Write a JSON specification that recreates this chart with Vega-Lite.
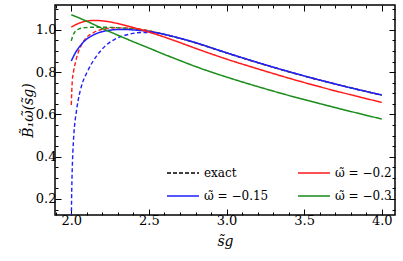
{
  "$schema": "https://vega.github.io/schema/vega-lite/v6.json",
  "width": 340,
  "height": 210,
  "autosize": {"type": "none"},
  "padding": {"left": 55, "top": 5, "right": 8, "bottom": 46},
  "background": "white",
  "config": {
    "view": {"stroke": "black", "strokeWidth": 1.5},
    "font": "DejaVu Serif",
    "axis": {"labelFont": "DejaVu Serif", "titleFont": "DejaVu Serif", "labelColor": "black", "titleColor": "black", "tickColor": "black", "grid": false, "domain": false},
    "legend": {"labelFont": "DejaVu Serif"}
  },
  "data": {"values": [
    {"s": 2.0, "B": 0.853, "w": "-0.15", "kind": "approx", "label": "ω̃ = −0.15"},
    {"s": 2.025, "B": 0.89, "w": "-0.15", "kind": "approx", "label": "ω̃ = −0.15"},
    {"s": 2.05, "B": 0.918, "w": "-0.15", "kind": "approx", "label": "ω̃ = −0.15"},
    {"s": 2.075, "B": 0.94, "w": "-0.15", "kind": "approx", "label": "ω̃ = −0.15"},
    {"s": 2.1, "B": 0.957, "w": "-0.15", "kind": "approx", "label": "ω̃ = −0.15"},
    {"s": 2.15, "B": 0.979, "w": "-0.15", "kind": "approx", "label": "ω̃ = −0.15"},
    {"s": 2.2, "B": 0.992, "w": "-0.15", "kind": "approx", "label": "ω̃ = −0.15"},
    {"s": 2.25, "B": 0.999, "w": "-0.15", "kind": "approx", "label": "ω̃ = −0.15"},
    {"s": 2.3, "B": 1.002, "w": "-0.15", "kind": "approx", "label": "ω̃ = −0.15"},
    {"s": 2.35, "B": 1.002, "w": "-0.15", "kind": "approx", "label": "ω̃ = −0.15"},
    {"s": 2.4, "B": 1.0, "w": "-0.15", "kind": "approx", "label": "ω̃ = −0.15"},
    {"s": 2.5, "B": 0.993, "w": "-0.15", "kind": "approx", "label": "ω̃ = −0.15"},
    {"s": 2.6, "B": 0.979, "w": "-0.15", "kind": "approx", "label": "ω̃ = −0.15"},
    {"s": 2.7, "B": 0.961, "w": "-0.15", "kind": "approx", "label": "ω̃ = −0.15"},
    {"s": 2.8, "B": 0.94, "w": "-0.15", "kind": "approx", "label": "ω̃ = −0.15"},
    {"s": 2.9, "B": 0.916, "w": "-0.15", "kind": "approx", "label": "ω̃ = −0.15"},
    {"s": 3.0, "B": 0.892, "w": "-0.15", "kind": "approx", "label": "ω̃ = −0.15"},
    {"s": 3.2, "B": 0.846, "w": "-0.15", "kind": "approx", "label": "ω̃ = −0.15"},
    {"s": 3.4, "B": 0.803, "w": "-0.15", "kind": "approx", "label": "ω̃ = −0.15"},
    {"s": 3.6, "B": 0.763, "w": "-0.15", "kind": "approx", "label": "ω̃ = −0.15"},
    {"s": 3.8, "B": 0.726, "w": "-0.15", "kind": "approx", "label": "ω̃ = −0.15"},
    {"s": 4.0, "B": 0.692, "w": "-0.15", "kind": "approx", "label": "ω̃ = −0.15"},

    {"s": 2.0, "B": 1.013, "w": "-0.2", "kind": "approx", "label": "ω̃ = −0.2"},
    {"s": 2.05, "B": 1.032, "w": "-0.2", "kind": "approx", "label": "ω̃ = −0.2"},
    {"s": 2.1, "B": 1.042, "w": "-0.2", "kind": "approx", "label": "ω̃ = −0.2"},
    {"s": 2.15, "B": 1.045, "w": "-0.2", "kind": "approx", "label": "ω̃ = −0.2"},
    {"s": 2.2, "B": 1.043, "w": "-0.2", "kind": "approx", "label": "ω̃ = −0.2"},
    {"s": 2.25, "B": 1.038, "w": "-0.2", "kind": "approx", "label": "ω̃ = −0.2"},
    {"s": 2.3, "B": 1.03, "w": "-0.2", "kind": "approx", "label": "ω̃ = −0.2"},
    {"s": 2.35, "B": 1.021, "w": "-0.2", "kind": "approx", "label": "ω̃ = −0.2"},
    {"s": 2.4, "B": 1.011, "w": "-0.2", "kind": "approx", "label": "ω̃ = −0.2"},
    {"s": 2.5, "B": 0.99, "w": "-0.2", "kind": "approx", "label": "ω̃ = −0.2"},
    {"s": 2.6, "B": 0.966, "w": "-0.2", "kind": "approx", "label": "ω̃ = −0.2"},
    {"s": 2.7, "B": 0.94, "w": "-0.2", "kind": "approx", "label": "ω̃ = −0.2"},
    {"s": 2.8, "B": 0.913, "w": "-0.2", "kind": "approx", "label": "ω̃ = −0.2"},
    {"s": 2.9, "B": 0.887, "w": "-0.2", "kind": "approx", "label": "ω̃ = −0.2"},
    {"s": 3.0, "B": 0.862, "w": "-0.2", "kind": "approx", "label": "ω̃ = −0.2"},
    {"s": 3.2, "B": 0.816, "w": "-0.2", "kind": "approx", "label": "ω̃ = −0.2"},
    {"s": 3.4, "B": 0.772, "w": "-0.2", "kind": "approx", "label": "ω̃ = −0.2"},
    {"s": 3.6, "B": 0.731, "w": "-0.2", "kind": "approx", "label": "ω̃ = −0.2"},
    {"s": 3.8, "B": 0.693, "w": "-0.2", "kind": "approx", "label": "ω̃ = −0.2"},
    {"s": 4.0, "B": 0.657, "w": "-0.2", "kind": "approx", "label": "ω̃ = −0.2"},

    {"s": 2.0, "B": 1.072, "w": "-0.3", "kind": "approx", "label": "ω̃ = −0.3"},
    {"s": 2.1, "B": 1.041, "w": "-0.3", "kind": "approx", "label": "ω̃ = −0.3"},
    {"s": 2.2, "B": 1.007, "w": "-0.3", "kind": "approx", "label": "ω̃ = −0.3"},
    {"s": 2.3, "B": 0.975, "w": "-0.3", "kind": "approx", "label": "ω̃ = −0.3"},
    {"s": 2.4, "B": 0.944, "w": "-0.3", "kind": "approx", "label": "ω̃ = −0.3"},
    {"s": 2.5, "B": 0.914, "w": "-0.3", "kind": "approx", "label": "ω̃ = −0.3"},
    {"s": 2.6, "B": 0.884, "w": "-0.3", "kind": "approx", "label": "ω̃ = −0.3"},
    {"s": 2.7, "B": 0.855, "w": "-0.3", "kind": "approx", "label": "ω̃ = −0.3"},
    {"s": 2.8, "B": 0.827, "w": "-0.3", "kind": "approx", "label": "ω̃ = −0.3"},
    {"s": 2.9, "B": 0.801, "w": "-0.3", "kind": "approx", "label": "ω̃ = −0.3"},
    {"s": 3.0, "B": 0.777, "w": "-0.3", "kind": "approx", "label": "ω̃ = −0.3"},
    {"s": 3.2, "B": 0.732, "w": "-0.3", "kind": "approx", "label": "ω̃ = −0.3"},
    {"s": 3.4, "B": 0.69, "w": "-0.3", "kind": "approx", "label": "ω̃ = −0.3"},
    {"s": 3.6, "B": 0.651, "w": "-0.3", "kind": "approx", "label": "ω̃ = −0.3"},
    {"s": 3.8, "B": 0.614, "w": "-0.3", "kind": "approx", "label": "ω̃ = −0.3"},
    {"s": 4.0, "B": 0.578, "w": "-0.3", "kind": "approx", "label": "ω̃ = −0.3"},

    {"s": 2.0, "B": 0.08, "w": "-0.15", "kind": "exact", "label": "exact"},
    {"s": 2.001, "B": 0.15, "w": "-0.15", "kind": "exact", "label": "exact"},
    {"s": 2.003, "B": 0.25, "w": "-0.15", "kind": "exact", "label": "exact"},
    {"s": 2.006, "B": 0.34, "w": "-0.15", "kind": "exact", "label": "exact"},
    {"s": 2.01, "B": 0.42, "w": "-0.15", "kind": "exact", "label": "exact"},
    {"s": 2.015, "B": 0.49, "w": "-0.15", "kind": "exact", "label": "exact"},
    {"s": 2.02, "B": 0.54, "w": "-0.15", "kind": "exact", "label": "exact"},
    {"s": 2.03, "B": 0.6, "w": "-0.15", "kind": "exact", "label": "exact"},
    {"s": 2.045, "B": 0.67, "w": "-0.15", "kind": "exact", "label": "exact"},
    {"s": 2.07, "B": 0.745, "w": "-0.15", "kind": "exact", "label": "exact"},
    {"s": 2.1, "B": 0.797, "w": "-0.15", "kind": "exact", "label": "exact"},
    {"s": 2.13, "B": 0.84, "w": "-0.15", "kind": "exact", "label": "exact"},
    {"s": 2.16, "B": 0.874, "w": "-0.15", "kind": "exact", "label": "exact"},
    {"s": 2.22, "B": 0.925, "w": "-0.15", "kind": "exact", "label": "exact"},
    {"s": 2.285, "B": 0.958, "w": "-0.15", "kind": "exact", "label": "exact"},
    {"s": 2.37, "B": 0.979, "w": "-0.15", "kind": "exact", "label": "exact"},
    {"s": 2.45, "B": 0.988, "w": "-0.15", "kind": "exact", "label": "exact"},
    {"s": 2.55, "B": 0.986, "w": "-0.15", "kind": "exact", "label": "exact"},
    {"s": 2.6, "B": 0.978, "w": "-0.15", "kind": "exact", "label": "exact"},
    {"s": 2.7, "B": 0.96, "w": "-0.15", "kind": "exact", "label": "exact"},
    {"s": 2.8, "B": 0.939, "w": "-0.15", "kind": "exact", "label": "exact"},
    {"s": 3.0, "B": 0.891, "w": "-0.15", "kind": "exact", "label": "exact"},
    {"s": 3.4, "B": 0.802, "w": "-0.15", "kind": "exact", "label": "exact"},
    {"s": 4.0, "B": 0.691, "w": "-0.15", "kind": "exact", "label": "exact"},

    {"s": 2.0, "B": 0.645, "w": "-0.2", "kind": "exact", "label": "exact"},
    {"s": 2.006, "B": 0.755, "w": "-0.2", "kind": "exact", "label": "exact"},
    {"s": 2.015, "B": 0.805, "w": "-0.2", "kind": "exact", "label": "exact"},
    {"s": 2.028, "B": 0.85, "w": "-0.2", "kind": "exact", "label": "exact"},
    {"s": 2.045, "B": 0.895, "w": "-0.2", "kind": "exact", "label": "exact"},
    {"s": 2.06, "B": 0.921, "w": "-0.2", "kind": "exact", "label": "exact"},
    {"s": 2.09, "B": 0.958, "w": "-0.2", "kind": "exact", "label": "exact"},
    {"s": 2.135, "B": 0.984, "w": "-0.2", "kind": "exact", "label": "exact"},
    {"s": 2.2, "B": 1.003, "w": "-0.2", "kind": "exact", "label": "exact"},
    {"s": 2.28, "B": 1.01, "w": "-0.2", "kind": "exact", "label": "exact"},
    {"s": 2.38, "B": 1.009, "w": "-0.2", "kind": "exact", "label": "exact"},
    {"s": 2.45, "B": 1.003, "w": "-0.2", "kind": "exact", "label": "exact"},
    {"s": 2.5, "B": 0.996, "w": "-0.2", "kind": "exact", "label": "exact"},
    {"s": 2.6, "B": 0.979, "w": "-0.2", "kind": "exact", "label": "exact"},
    {"s": 2.7, "B": 0.96, "w": "-0.2", "kind": "exact", "label": "exact"},
    {"s": 2.8, "B": 0.939, "w": "-0.2", "kind": "exact", "label": "exact"},
    {"s": 3.0, "B": 0.891, "w": "-0.2", "kind": "exact", "label": "exact"},
    {"s": 3.4, "B": 0.802, "w": "-0.2", "kind": "exact", "label": "exact"},
    {"s": 4.0, "B": 0.691, "w": "-0.2", "kind": "exact", "label": "exact"},

    {"s": 2.0, "B": 0.948, "w": "-0.3", "kind": "exact", "label": "exact"},
    {"s": 2.008, "B": 0.968, "w": "-0.3", "kind": "exact", "label": "exact"},
    {"s": 2.017, "B": 0.984, "w": "-0.3", "kind": "exact", "label": "exact"},
    {"s": 2.03, "B": 0.996, "w": "-0.3", "kind": "exact", "label": "exact"},
    {"s": 2.05, "B": 1.005, "w": "-0.3", "kind": "exact", "label": "exact"},
    {"s": 2.09, "B": 1.011, "w": "-0.3", "kind": "exact", "label": "exact"},
    {"s": 2.16, "B": 1.013, "w": "-0.3", "kind": "exact", "label": "exact"},
    {"s": 2.25, "B": 1.012, "w": "-0.3", "kind": "exact", "label": "exact"},
    {"s": 2.35, "B": 1.008, "w": "-0.3", "kind": "exact", "label": "exact"},
    {"s": 2.45, "B": 1.0, "w": "-0.3", "kind": "exact", "label": "exact"},
    {"s": 2.5, "B": 0.995, "w": "-0.3", "kind": "exact", "label": "exact"},
    {"s": 2.6, "B": 0.979, "w": "-0.3", "kind": "exact", "label": "exact"},
    {"s": 2.7, "B": 0.96, "w": "-0.3", "kind": "exact", "label": "exact"},
    {"s": 2.8, "B": 0.939, "w": "-0.3", "kind": "exact", "label": "exact"},
    {"s": 3.0, "B": 0.891, "w": "-0.3", "kind": "exact", "label": "exact"},
    {"s": 3.4, "B": 0.802, "w": "-0.3", "kind": "exact", "label": "exact"},
    {"s": 4.0, "B": 0.691, "w": "-0.3", "kind": "exact", "label": "exact"}
  ]},
  "layer": [
    {
      "transform": [{"filter": "datum.kind === 'exact'"}],
      "mark": {"type": "line", "clip": true, "strokeWidth": 1.4, "strokeDash": [4, 2.5], "interpolate": "monotone"},
      "encoding": {
        "x": {"field": "s", "type": "quantitative", "scale": {"domain": [1.895, 4.085], "nice": false, "zero": false},
          "axis": {"orient": "bottom", "values": [1.9, 2, 2.1, 2.2, 2.3, 2.4, 2.5, 2.6, 2.7, 2.8, 2.9, 3, 3.1, 3.2, 3.3, 3.4, 3.5, 3.6, 3.7, 3.8, 3.9, 4],
            "tickSize": {"condition": {"test": "abs(datum.value*2 - round(datum.value*2)) < 0.001", "value": -6}, "value": -3},
            "tickWidth": 1,
            "labelExpr": "abs(datum.value*2 - round(datum.value*2)) < 0.001 ? format(datum.value, '.1f') : ''",
            "labelFontSize": 13, "labelPadding": 5, "labelOverlap": false, "labelFlush": false,
            "title": "s̃g", "titleFontSize": 14, "titleFontStyle": "italic", "titleFontWeight": "normal", "titlePadding": 4}},
        "y": {"field": "B", "type": "quantitative", "scale": {"domain": [0.124, 1.118], "nice": false, "zero": false},
          "axis": {"orient": "left", "values": [0.15, 0.2, 0.25, 0.3, 0.35, 0.4, 0.45, 0.5, 0.55, 0.6, 0.65, 0.7, 0.75, 0.8, 0.85, 0.9, 0.95, 1, 1.05, 1.1],
            "tickSize": {"condition": {"test": "abs(datum.value*5 - round(datum.value*5)) < 0.001", "value": -6}, "value": -3},
            "tickWidth": 1,
            "labelExpr": "abs(datum.value*5 - round(datum.value*5)) < 0.001 ? format(datum.value, '.1f') : ''",
            "labelFontSize": 13, "labelPadding": 5, "labelOverlap": false, "labelFlush": false,
            "title": "B̃₁ω̃(s̃g)", "titleFontSize": 14, "titleFontStyle": "italic", "titleFontWeight": "normal", "titlePadding": 0}},
        "color": {"field": "w", "type": "nominal", "scale": {"domain": ["-0.15", "-0.2", "-0.3"], "range": ["#1f1fff", "#ff1a1a", "#1a8c1a"]}, "legend": null},
        "detail": {"field": "w"}
      }
    },
    {
      "transform": [{"filter": "datum.kind === 'approx'"}],
      "mark": {"type": "line", "clip": true, "strokeWidth": 1.5, "interpolate": "monotone"},
      "encoding": {
        "x": {"field": "s", "type": "quantitative",
          "axis": {"orient": "top", "values": [1.9, 2, 2.1, 2.2, 2.3, 2.4, 2.5, 2.6, 2.7, 2.8, 2.9, 3, 3.1, 3.2, 3.3, 3.4, 3.5, 3.6, 3.7, 3.8, 3.9, 4],
            "tickSize": {"condition": {"test": "abs(datum.value*2 - round(datum.value*2)) < 0.001", "value": -6}, "value": -3},
            "tickWidth": 1, "labels": false, "title": null}},
        "y": {"field": "B", "type": "quantitative",
          "axis": {"orient": "right", "values": [0.15, 0.2, 0.25, 0.3, 0.35, 0.4, 0.45, 0.5, 0.55, 0.6, 0.65, 0.7, 0.75, 0.8, 0.85, 0.9, 0.95, 1, 1.05, 1.1],
            "tickSize": {"condition": {"test": "abs(datum.value*5 - round(datum.value*5)) < 0.001", "value": -6}, "value": -3},
            "tickWidth": 1, "labels": false, "title": null}},
        "color": {"field": "label", "type": "nominal",
          "scale": {"domain": ["exact", "ω̃ = −0.15", "ω̃ = −0.2", "ω̃ = −0.3"], "range": ["black", "#1f1fff", "#ff1a1a", "#1a8c1a"]},
          "legend": {"title": null, "orient": "none", "legendX": 111, "legendY": 151, "columns": 2, "symbolType": "stroke", "symbolSize": 1024, "symbolStrokeWidth": 1.5, "labelFontSize": 12, "labelColor": "black", "labelOffset": 4, "columnPadding": 26, "rowPadding": -10, "padding": 0, "labelLimit": 0}},
        "strokeDash": {"field": "label", "type": "nominal",
          "scale": {"domain": ["exact", "ω̃ = −0.15", "ω̃ = −0.2", "ω̃ = −0.3"], "range": [[4, 2], [1, 0], [1, 0], [1, 0]]},
          "legend": {"title": null, "orient": "none", "legendX": 111, "legendY": 151, "columns": 2, "symbolType": "stroke", "symbolSize": 1024, "symbolStrokeWidth": 1.5, "labelFontSize": 12, "labelColor": "black", "labelOffset": 4, "columnPadding": 26, "rowPadding": -10, "padding": 0, "labelLimit": 0}}
      }
    }
  ],
  "resolve": {"scale": {"color": "independent", "strokeDash": "independent"}, "axis": {"x": "independent", "y": "independent"}}
}
